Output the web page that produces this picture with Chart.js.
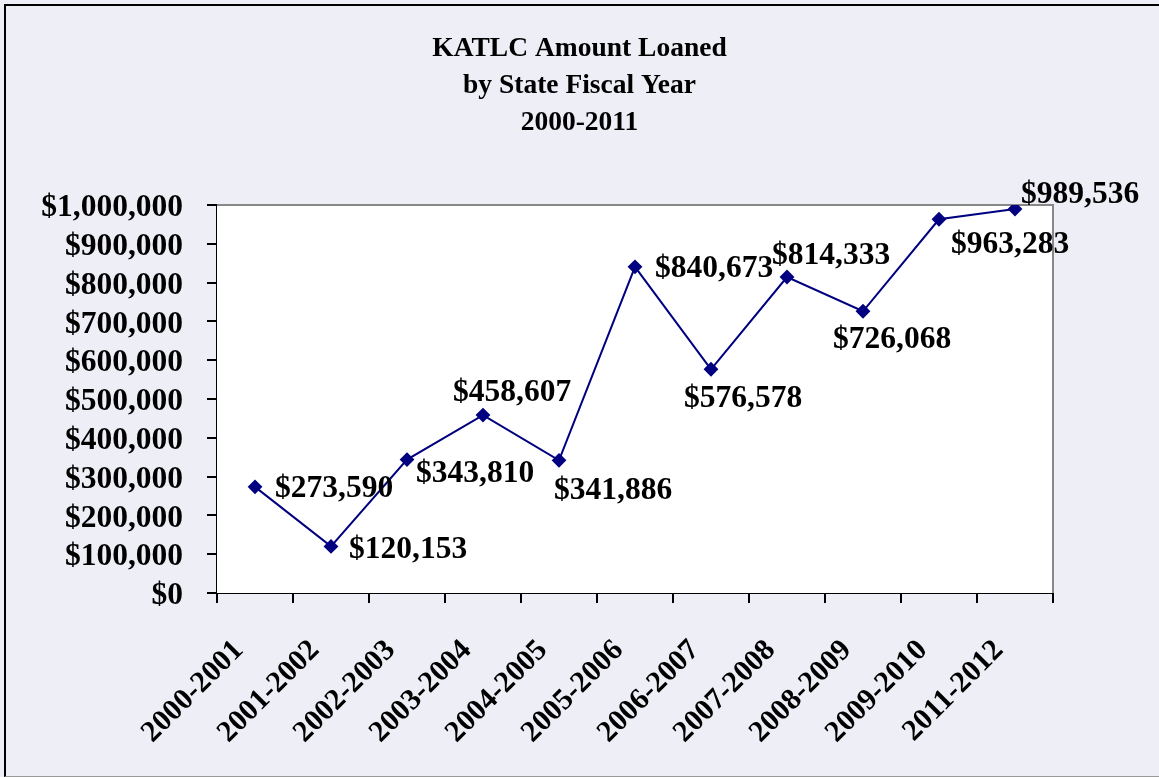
<!DOCTYPE html>
<html>
<head>
<meta charset="utf-8">
<script src="https://cdn.jsdelivr.net/npm/chart.js@4"></script>
<style>
  html, body { margin: 0; padding: 0; background: #EEEEF6; }
  #wrap { position: absolute; left: 0; top: 0; width: 1159px; height: 777px; }
  #frame { position: absolute; left: 4px; top: 4px; width: 1170px; height: 770px;
           border-left: 2px solid #000; border-top: 2px solid #000; border-bottom: 1px solid #999; pointer-events: none; }
</style>
</head>
<body>
<div id="wrap"><canvas id="loanChart" width="1159" height="777"></canvas></div>
<div id="frame"></div>
<script>
const years = ['2000-2001', '2001-2002', '2002-2003', '2003-2004', '2004-2005', '2005-2006',
               '2006-2007', '2007-2008', '2008-2009', '2009-2010', '2011-2012'];
const amountLoaned = [273590, 120153, 343810, 458607, 341886, 840673,
                      576578, 814333, 726068, 963283, 989536];
const yTickValues = [0, 100000, 200000, 300000, 400000, 500000, 600000, 700000, 800000, 900000, 1000000];

// where each value label sits relative to its marker: [dx to left edge, dy to middle]
const labelOffsets = [[20, 2], [18, 3], [9, 14], [-30, -22], [-5, 31], [20, 2],
                      [-27, 30], [-15, -21], [-30, 29], [12, 26], [6, -14]];

const serif = '"Liberation Serif", "Times New Roman", serif';
const money = v => '$' + Number(v).toLocaleString('en-US');

const plotFrame = {
  id: 'plotFrame',
  beforeDatasetsDraw(chart) {
    const a = chart.chartArea, c = chart.ctx;
    c.save();
    c.fillStyle = '#ffffff';
    c.fillRect(a.left, a.top, a.right - a.left, a.bottom - a.top);
    c.strokeStyle = '#888888';
    c.lineWidth = 2;
    c.beginPath();
    c.moveTo(a.left, a.top);
    c.lineTo(a.right, a.top);
    c.lineTo(a.right, a.bottom);
    c.stroke();
    c.restore();
  }
};

const valueLabels = {
  id: 'valueLabels',
  afterDatasetsDraw(chart) {
    const c = chart.ctx;
    const meta = chart.getDatasetMeta(0);
    c.save();
    c.font = 'bold 31.5px ' + serif;
    c.fillStyle = '#000';
    c.textAlign = 'left';
    c.textBaseline = 'middle';
    meta.data.forEach((pt, i) => {
      const off = labelOffsets[i];
      c.fillText(money(amountLoaned[i]), pt.x + off[0], pt.y + off[1]);
    });
    c.restore();
  }
};

new Chart(document.getElementById('loanChart'), {
  type: 'line',
  data: {
    labels: years,
    datasets: [{
      label: 'Amount Loaned',
      data: amountLoaned,
      borderColor: '#000080',
      backgroundColor: '#000080',
      borderWidth: 2,
      pointStyle: 'rectRot',
      pointRadius: 6,
      tension: 0
    }]
  },
  options: {
    responsive: false,
    animation: false,
    layout: { padding: 0 },
    plugins: {
      legend: { display: false },
      tooltip: { enabled: false },
      title: {
        display: true,
        text: ['KATLC Amount Loaned', 'by State Fiscal Year', '2000-2011'],
        color: '#000',
        font: { family: serif, size: 27.5, weight: 'bold', lineHeight: '37px' },
        padding: { top: 30, bottom: 64 }
      }
    },
    scales: {
      x: {
        offset: true,
        grid: { offset: true, drawOnChartArea: false, color: '#000', tickLength: 10, lineWidth: 2 },
        border: { color: '#000', width: 2 },
        ticks: {
          color: '#000', minRotation: 45, maxRotation: 45, padding: 30, labelOffset: -16,
          autoSkip: false,
          font: { family: serif, size: 30, weight: 'bold' }
        },
        afterFit(scale) { scale.height = 777 - 593; }
      },
      y: {
        min: 0,
        max: 1000000,
        afterBuildTicks(scale) { scale.ticks = yTickValues.map(v => ({ value: v })); },
        grid: { drawOnChartArea: false, color: '#000', tickLength: 10, lineWidth: 2 },
        border: { color: '#000', width: 2 },
        ticks: {
          color: '#000', padding: 24, labelOffset: 3, autoSkip: false,
          font: { family: serif, size: 31.5, weight: 'bold' },
          callback: v => money(v)
        },
        afterFit(scale) { scale.width = 217; }
      },
      rightGap: {
        position: 'right',
        display: true,
        grid: { display: false },
        border: { display: false },
        ticks: { display: false },
        afterFit(scale) { scale.width = 1159 - 1053; }
      }
    }
  },
  plugins: [plotFrame, valueLabels]
});
</script>
</body>
</html>
